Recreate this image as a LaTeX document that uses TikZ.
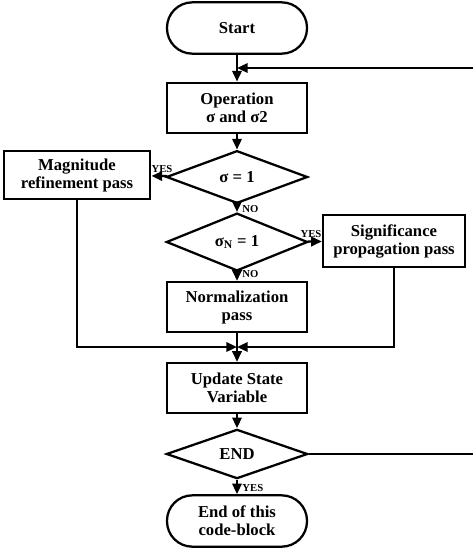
\documentclass[tikz,border=0pt]{standalone}
\usepackage{fontspec}
\setmainfont{Liberation Serif}
\usetikzlibrary{shapes.geometric,arrows.meta}

\begin{document}
\begin{tikzpicture}[x=0.75pt,y=0.75pt,yscale=-1,xscale=1,
  line width=1.7pt,
  every node/.style={font=\bfseries\fontsize{12.5}{13.5}\selectfont, align=center},
  proc/.style={draw, rectangle, inner sep=0pt, minimum width=105pt, minimum height=38pt},
  term/.style={draw, rectangle, rounded corners=19pt, inner sep=0pt, minimum width=105pt, minimum height=38.5pt},
  test/.style={draw, diamond, aspect=1, inner sep=0pt, minimum width=106pt, minimum height=39.5pt},
  tag/.style={font=\bfseries\fontsize{8}{9}\selectfont, inner sep=1pt},
  arr/.style={-{Triangle[length=8pt,width=7pt]}}]
%set diagram size 473 x 550
\clip (0,0) rectangle (473,550);
\fill[white] (0,0) rectangle (473,550);

%Shape: Terminal
\node[term] (start) at (237,28) {Start};
%Shape: Rectangle
\node[proc] (op) at (237,108) {Operation\\σ and σ2};
%Shape: Diamond
\node[test] (d1) at (237,177) {σ = 1};
%Shape: Rectangle
\node[proc, minimum width=110pt, minimum height=36pt] (mag) at (77,175) {Magnitude\\refinement pass};
%Shape: Diamond
\node[test] (d2) at (237,242) {σ\textsubscript{N} = 1};
%Shape: Rectangle
\node[proc, minimum width=106.5pt, minimum height=39pt] (sig) at (394,241) {Significance\\propagation pass};
%Shape: Rectangle
\node[proc, minimum height=37.5pt] (norm) at (237,307) {Normalization\\pass};
%Shape: Rectangle
\node[proc, minimum height=37.5pt] (upd) at (237,388) {Update State\\Variable};
%Shape: Diamond
\node[test, minimum height=37pt] (d3) at (237,454) {END};
%Shape: Terminal
\node[term] (stop) at (237,521) {End of this\\code-block};

%Joints
\coordinate (loop) at (237,68);
\coordinate (rim) at (482,68);
\coordinate (mrg) at (237,347);

%Straight Lines
\draw[arr] (start) -- (op);
\draw[arr] (op) -- (d1);
\draw[arr] (d1) -- (mag);
\draw[arr] (d1) -- (d2);
\draw[arr] (d2) -- (sig);
\draw[arr] (d2) -- (norm);
\draw[arr] (mag.south) |- (mrg);
\draw[arr] (sig.south) |- (mrg);
\draw[arr] (norm) -- (upd);
\draw[arr] (upd) -- (d3);
\draw[arr] (d3) -- (stop);
\draw[arr] (d3.east) -| (rim) -- (loop);

%Labels
\node[tag, anchor=south] at (162,175) {YES};
\node[tag, anchor=west] at (240,209) {NO};
\node[tag, anchor=south] at (311,240) {YES};
\node[tag, anchor=west] at (240,274) {NO};
\node[tag, anchor=west] at (240,488) {YES};
\end{tikzpicture}
\end{document}
